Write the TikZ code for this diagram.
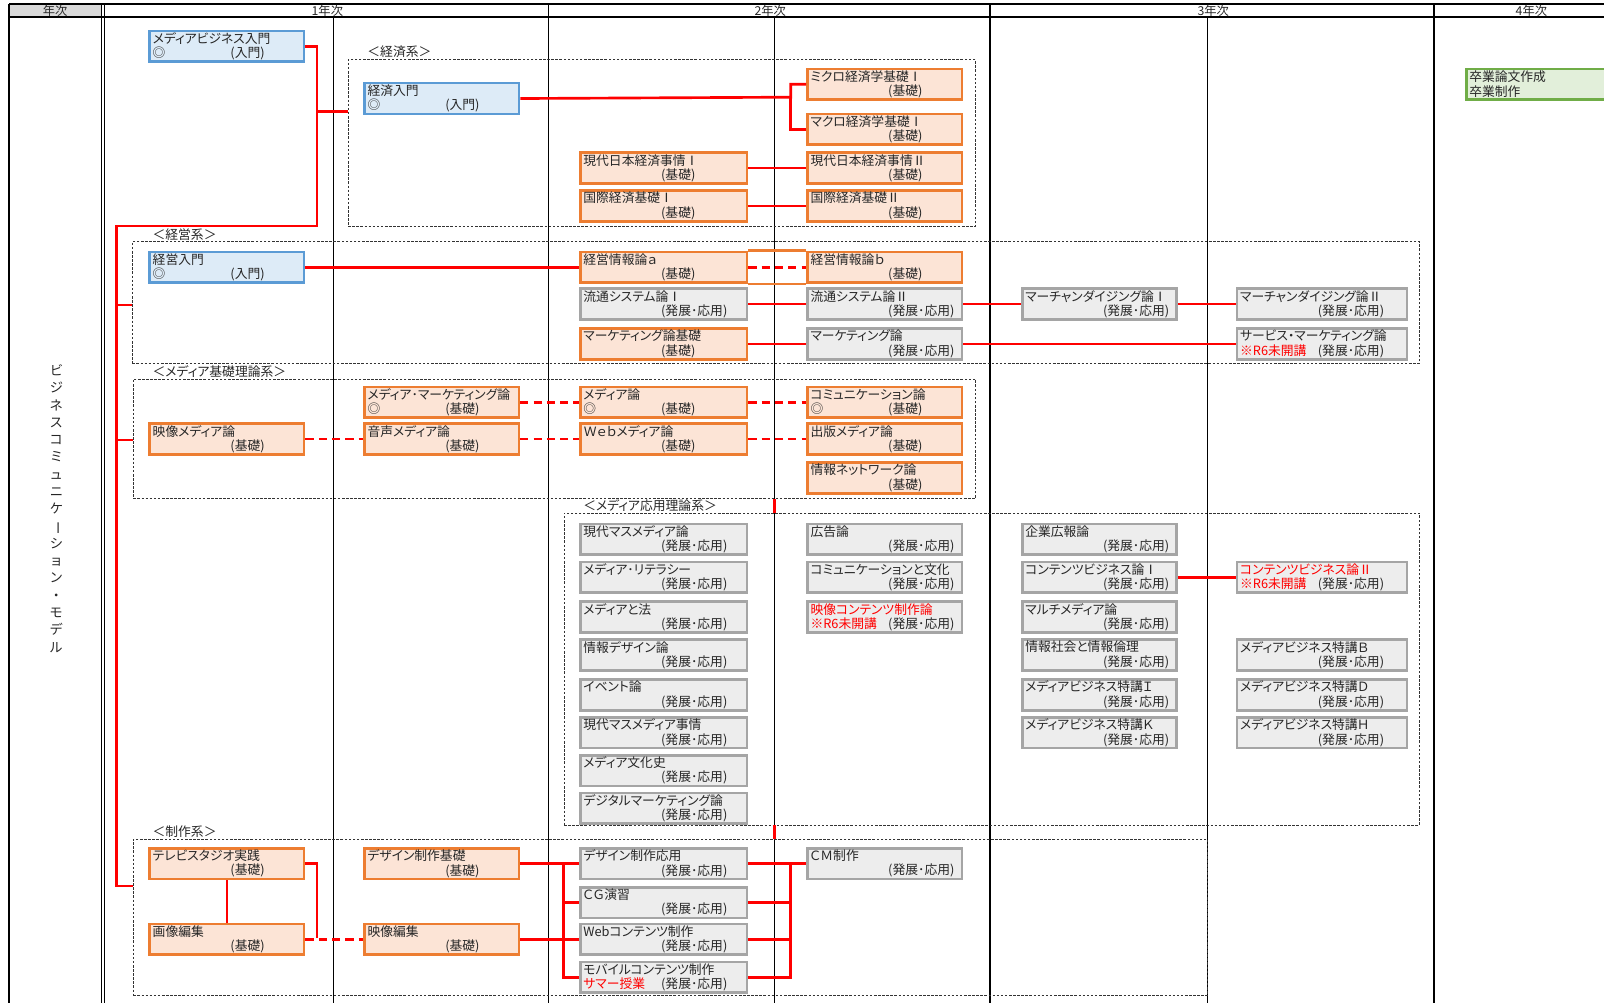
\documentclass[tikz,border=0pt]{standalone}
\usepackage{fontspec}
\setmainfont{Noto Sans CJK JP}[RawFeature=+palt]
\usetikzlibrary{positioning}

\definecolor{introline}{HTML}{5B9BD5}
\definecolor{introfill}{HTML}{DDEBF7}
\definecolor{basicline}{HTML}{ED7D31}
\definecolor{basicfill}{HTML}{FCE4D6}
\definecolor{advline}{HTML}{A5A5A5}
\definecolor{advfill}{HTML}{EDEDED}
\definecolor{gradline}{HTML}{70AD47}
\definecolor{gradfill}{HTML}{E2EFDA}
\definecolor{linkred}{HTML}{FF0000}
\definecolor{textgray}{HTML}{262626}
\definecolor{headfill}{HTML}{D9D9D9}

\newcommand{\kamoku}[3]{#1\\\makebox[76pt][l]{#2}#3}
\newcommand{\kiso}{(基礎)}
\newcommand{\hatten}{(発展･応用)}
\newcommand{\mikai}{\textcolor{linkred}{※R6未開講}}

\begin{document}
\begin{tikzpicture}[x=1pt, y=-1pt,
  course/.style={draw, line width=2.6pt, anchor=north west, minimum height=30pt,
    inner xsep=3pt, inner ysep=0pt, align=left, text=textgray,
    font=\fontsize{12.5}{14}\selectfont},
  intro/.style={course, draw=introline, fill=introfill},
  basic/.style={course, draw=basicline, fill=basicfill},
  adv/.style={course, draw=advline, fill=advfill},
  grad/.style={course, draw=gradline, fill=gradfill},
  narrow/.style={text width=145pt},
  wide/.style={text width=157pt},
  wider/.style={text width=160pt},
  group/.style={draw=black!80, dash pattern=on 2.5pt off 1.5pt, line width=0.7pt,
    anchor=north west, inner sep=0pt},
  grouplabel/.style={anchor=south west, inner sep=1pt, text=textgray,
    font=\fontsize{12.5}{14}\selectfont},
  headlabel/.style={inner sep=0pt, text=textgray, font=\fontsize{12}{12}\selectfont},
  link/.style={draw=linkred, line width=2.6pt},
  optlink/.style={link, dash pattern=on 8pt off 5pt},
  subline/.style={line width=0.8pt},
  yearline/.style={line width=1.5pt}]

  \useasboundingbox (0,0) rectangle (1568,980);

  % grid of the table
  \fill[headfill] (9,4) rectangle (99,17);
  \draw[line width=2pt] (9,4) -- (1568,4);
  \draw[line width=2pt] (9,17) -- (1568,17);
  \draw[line width=2pt] (9,4) -- (9,980);
  \draw[line width=1pt] (99,4) -- (99,980);
  \draw[line width=1pt] (102,4) -- (102,980);
  \foreach \x in {536,968,1402}
    \draw[yearline] (\x,4) -- (\x,980);
  \foreach \x in {326,757,1180}
    \draw[subline] (\x,17) -- (\x,980);

  \node[headlabel] (head0) at (54,11) {年次};
  \node[headlabel] (head1) at (320,11) {1年次};
  \node[headlabel] (head2) at (753,11) {2年次};
  \node[headlabel] (head3) at (1186,11) {3年次};
  \node[headlabel] (head4) at (1497,11) {4年次};

  \node[align=center, text=textgray, font=\fontsize{13}{16.9}\selectfont] (modelname) at (55,497)
    {ビ\\ジ\\ネ\\ス\\コ\\ミ\\ュ\\ニ\\ケ\\\rotatebox[origin=c]{-90}{ー}\\シ\\ョ\\ン\\・\\モ\\デ\\ル};

  % groups
  \node[group, minimum width=613pt, minimum height=163pt] (keizai) at (340,58) {};
  \node[group, minimum width=1258pt, minimum height=119pt] (keiei) at (129,236) {};
  \node[group, minimum width=823pt, minimum height=117pt] (kiso) at (130,370) {};
  \node[group, minimum width=836pt, minimum height=305pt] (ouyou) at (551,501) {};
  \node[group, minimum width=1050pt, minimum height=153pt] (seisaku) at (130,820) {};
  \node[grouplabel] (keizailbl) at ([xshift=18pt]keizai.north west) {＜経済系＞};
  \node[grouplabel] (keieilbl) at ([xshift=19pt]keiei.north west) {＜経営系＞};
  \node[grouplabel] (kisolbl) at ([xshift=18pt]kiso.north west) {＜メディア基礎理論系＞};
  \node[grouplabel] (ouyoulbl) at ([xshift=18pt]ouyou.north west) {＜メディア応用理論系＞};
  \node[grouplabel] (seisakulbl) at ([xshift=18pt]seisaku.north west) {＜制作系＞};

  % 1st year
  \node[intro, narrow] (mbiz) at (145,29) {\kamoku{メディアビジネス入門}{◎}{(入門)}};
  \node[intro, narrow] (keizainyu) at (355,80) {\kamoku{経済入門}{◎}{(入門)}};
  \node[intro, narrow] (keieinyu) at (145,245) {\kamoku{経営入門}{◎}{(入門)}};
  \node[basic, narrow] (eizomedia) at (145,413) {\kamoku{映像メディア論}{}{\kiso}};
  \node[basic, narrow] (mediamkt) at (355,377) {\kamoku{メディア･マーケティング論}{◎}{\kiso}};
  \node[basic, narrow] (onsei) at (355,413) {\kamoku{音声メディア論}{}{\kiso}};
  \node[basic, narrow] (tvstudio) at (145,828) {\kamoku{テレビスタジオ実践}{}{\kiso}};
  \node[basic, narrow] (gazo) at (145,902) {\kamoku{画像編集}{}{\kiso}};
  \node[basic, narrow] (designkiso) at (355,828) {\kamoku{デザイン制作基礎}{}{\kiso}};
  \node[basic, narrow] (eizohen) at (355,902) {\kamoku{映像編集}{}{\kiso}};

  % 2nd year, first half
  \node[basic, wide] (gendaiI) at (566,148) {\kamoku{現代日本経済事情Ⅰ}{}{\kiso}};
  \node[basic, wide] (kokusaiI) at (566,185) {\kamoku{国際経済基礎Ⅰ}{}{\kiso}};
  \node[basic, wide] (keieiA) at (566,245) {\kamoku{経営情報論ａ}{}{\kiso}};
  \node[adv, wide] (ryutsuI) at (566,281) {\kamoku{流通システム論Ⅰ}{}{\hatten}};
  \node[basic, wide] (mktkiso) at (566,320) {\kamoku{マーケティング論基礎}{}{\kiso}};
  \node[basic, wide] (medialon) at (566,377) {\kamoku{メディア論}{◎}{\kiso}};
  \node[basic, wide] (webmedia) at (566,413) {\kamoku{Ｗｅｂメディア論}{}{\kiso}};
  \node[adv, wide] (massmedia) at (566,511) {\kamoku{現代マスメディア論}{}{\hatten}};
  \node[adv, wide] (literacy) at (566,548) {\kamoku{メディア･リテラシー}{}{\hatten}};
  \node[adv, wide] (law) at (566,587) {\kamoku{メディアと法}{}{\hatten}};
  \node[adv, wide] (infodesign) at (566,624) {\kamoku{情報デザイン論}{}{\hatten}};
  \node[adv, wide] (event) at (566,663) {\kamoku{イベント論}{}{\hatten}};
  \node[adv, wide] (massjijo) at (566,700) {\kamoku{現代マスメディア事情}{}{\hatten}};
  \node[adv, wide] (bunkashi) at (566,737) {\kamoku{メディア文化史}{}{\hatten}};
  \node[adv, wide] (digimkt) at (566,774) {\kamoku{デジタルマーケティング論}{}{\hatten}};
  \node[adv, wide] (designoyo) at (566,828) {\kamoku{デザイン制作応用}{}{\hatten}};
  \node[adv, wide] (cg) at (566,866) {\kamoku{ＣＧ演習}{}{\hatten}};
  \node[adv, wide] (web) at (566,902) {\kamoku{Webコンテンツ制作}{}{\hatten}};
  \node[adv, wide] (mobile) at (566,939) {\kamoku{モバイルコンテンツ制作}{\textcolor{linkred}{サマー授業}}{\hatten}};

  % 2nd year, second half
  \node[basic, narrow] (micro) at (788,66) {\kamoku{ミクロ経済学基礎Ⅰ}{}{\kiso}};
  \node[basic, narrow] (macro) at (788,110) {\kamoku{マクロ経済学基礎Ⅰ}{}{\kiso}};
  \node[basic, narrow] (gendaiII) at (788,148) {\kamoku{現代日本経済事情Ⅱ}{}{\kiso}};
  \node[basic, narrow] (kokusaiII) at (788,185) {\kamoku{国際経済基礎Ⅱ}{}{\kiso}};
  \node[basic, narrow] (keieiB) at (788,245) {\kamoku{経営情報論ｂ}{}{\kiso}};
  \node[adv, narrow] (ryutsuII) at (788,281) {\kamoku{流通システム論Ⅱ}{}{\hatten}};
  \node[adv, narrow] (mkt) at (788,320) {\kamoku{マーケティング論}{}{\hatten}};
  \node[basic, narrow] (comm) at (788,377) {\kamoku{コミュニケーション論}{◎}{\kiso}};
  \node[basic, narrow] (shuppan) at (788,413) {\kamoku{出版メディア論}{}{\kiso}};
  \node[basic, narrow] (network) at (788,451) {\kamoku{情報ネットワーク論}{}{\kiso}};
  \node[adv, narrow] (kokoku) at (788,511) {\kamoku{広告論}{}{\hatten}};
  \node[adv, narrow] (commbunka) at (788,548) {\kamoku{コミュニケーションと文化}{}{\hatten}};
  \node[adv, narrow] (eizocontents) at (788,587) {\kamoku{\textcolor{linkred}{映像コンテンツ制作論}}{\mikai}{\hatten}};
  \node[adv, narrow] (cm) at (788,828) {\kamoku{ＣＭ制作}{}{\hatten}};

  % 3rd year
  \node[adv, narrow] (merchI) at (998,281) {\kamoku{マーチャンダイジング論Ⅰ}{}{\hatten}};
  \node[adv, narrow] (kigyo) at (998,511) {\kamoku{企業広報論}{}{\hatten}};
  \node[adv, narrow] (contentsI) at (998,548) {\kamoku{コンテンツビジネス論Ⅰ}{}{\hatten}};
  \node[adv, narrow] (multi) at (998,587) {\kamoku{マルチメディア論}{}{\hatten}};
  \node[adv, narrow] (infosoc) at (998,624) {\kamoku{情報社会と情報倫理}{}{\hatten}};
  \node[adv, narrow] (tokuI) at (998,663) {\kamoku{メディアビジネス特講Ｉ}{}{\hatten}};
  \node[adv, narrow] (tokuK) at (998,700) {\kamoku{メディアビジネス特講Ｋ}{}{\hatten}};
  \node[adv, wider] (merchII) at (1208,281) {\kamoku{マーチャンダイジング論Ⅱ}{}{\hatten}};
  \node[adv, wider] (service) at (1208,320) {\kamoku{サービス・マーケティング論}{\mikai}{\hatten}};
  \node[adv, wider] (contentsII) at (1208,548) {\kamoku{\textcolor{linkred}{コンテンツビジネス論Ⅱ}}{\mikai}{\hatten}};
  \node[adv, wider] (tokuB) at (1208,624) {\kamoku{メディアビジネス特講Ｂ}{}{\hatten}};
  \node[adv, wider] (tokuD) at (1208,663) {\kamoku{メディアビジネス特講Ｄ}{}{\hatten}};
  \node[adv, wider] (tokuH) at (1208,700) {\kamoku{メディアビジネス特講Ｈ}{}{\hatten}};

  % 4th year
  \node[grad, wider] (sotsugyo) at (1432,66) {卒業論文作成\\卒業制作};

  % trunk from the first course
  \coordinate (trunkTop) at (310,221);
  \coordinate (trunkLeft) at (114,221);
  \coordinate (trunkEnd) at (114,866);
  \draw[link] (mbiz.east) -| (trunkTop) -- (trunkLeft) -- (trunkEnd) -- (seisaku.west |- trunkEnd);
  \coordinate (jKeizai) at (310,109);
  \draw[link] (jKeizai) -- (keizai.west |- jKeizai);
  \coordinate (jKeiei) at (114,298);
  \draw[link] (jKeiei) -- (keiei.west |- jKeiei);
  \coordinate (jKiso) at (114,430);
  \draw[link] (jKiso) -- (kiso.west |- jKiso);

  \coordinate (col2b) at (757,0);
  \draw[link] (kiso.south -| col2b) -- (ouyou.north -| col2b);
  \draw[link] (ouyou.south -| col2b) -- (seisaku.north -| col2b);

  % economics
  \coordinate (ecoBus) at (773,95);
  \draw[link] (keizainyu.east) -- (ecoBus) |- (micro.west);
  \draw[link] (ecoBus) |- (macro.west);
  \draw[link] (gendaiI.east) -- (gendaiII.west);
  \draw[link] (kokusaiI.east) -- (kokusaiII.west);

  % management
  \draw[link] (keieinyu.east) -- (keieiA.west);
  \draw[optlink] (keieiA.east) -- (keieiB.west);
  \draw[draw=basicline, line width=2.6pt] (keieiA.north east) -- (keieiB.north west)
    (keieiA.south east) -- (keieiB.south west);
  \draw[link] (ryutsuI.east) -- (ryutsuII.west);
  \draw[link] (ryutsuII.east) -- (merchI.west);
  \draw[link] (merchI.east) -- (merchII.west);
  \draw[link] (mktkiso.east) -- (mkt.west);
  \draw[link] (mkt.east) -- (service.west);

  % media theory
  \draw[optlink] (eizomedia.east) -- (onsei.west);
  \draw[optlink] (mediamkt.east) -- (medialon.west);
  \draw[optlink] (onsei.east) -- (webmedia.west);
  \draw[optlink] (medialon.east) -- (comm.west);
  \draw[optlink] (webmedia.east) -- (shuppan.west);
  \draw[link] (contentsI.east) -- (contentsII.west);

  % production
  \draw[link] (tvstudio.south) -- (gazo.north);
  \coordinate (tvBend) at (310,917);
  \draw[link] (tvstudio.east) -| (tvBend);
  \draw[optlink] (gazo.east) -- (eizohen.west);
  \coordinate (busL) at (551,843);
  \draw[link] (designkiso.east) -- (designoyo.west);
  \draw[link] (busL) |- (cg.west);
  \draw[link] (busL) |- (mobile.west);
  \draw[link] (eizohen.east) -- (web.west);
  \coordinate (busR) at (773,843);
  \draw[link] (designoyo.east) -- (cm.west);
  \draw[link] (cg.east) -| (busR);
  \draw[link] (web.east) -| (busR);
  \draw[link] (mobile.east) -| (busR);
\end{tikzpicture}
\end{document}
